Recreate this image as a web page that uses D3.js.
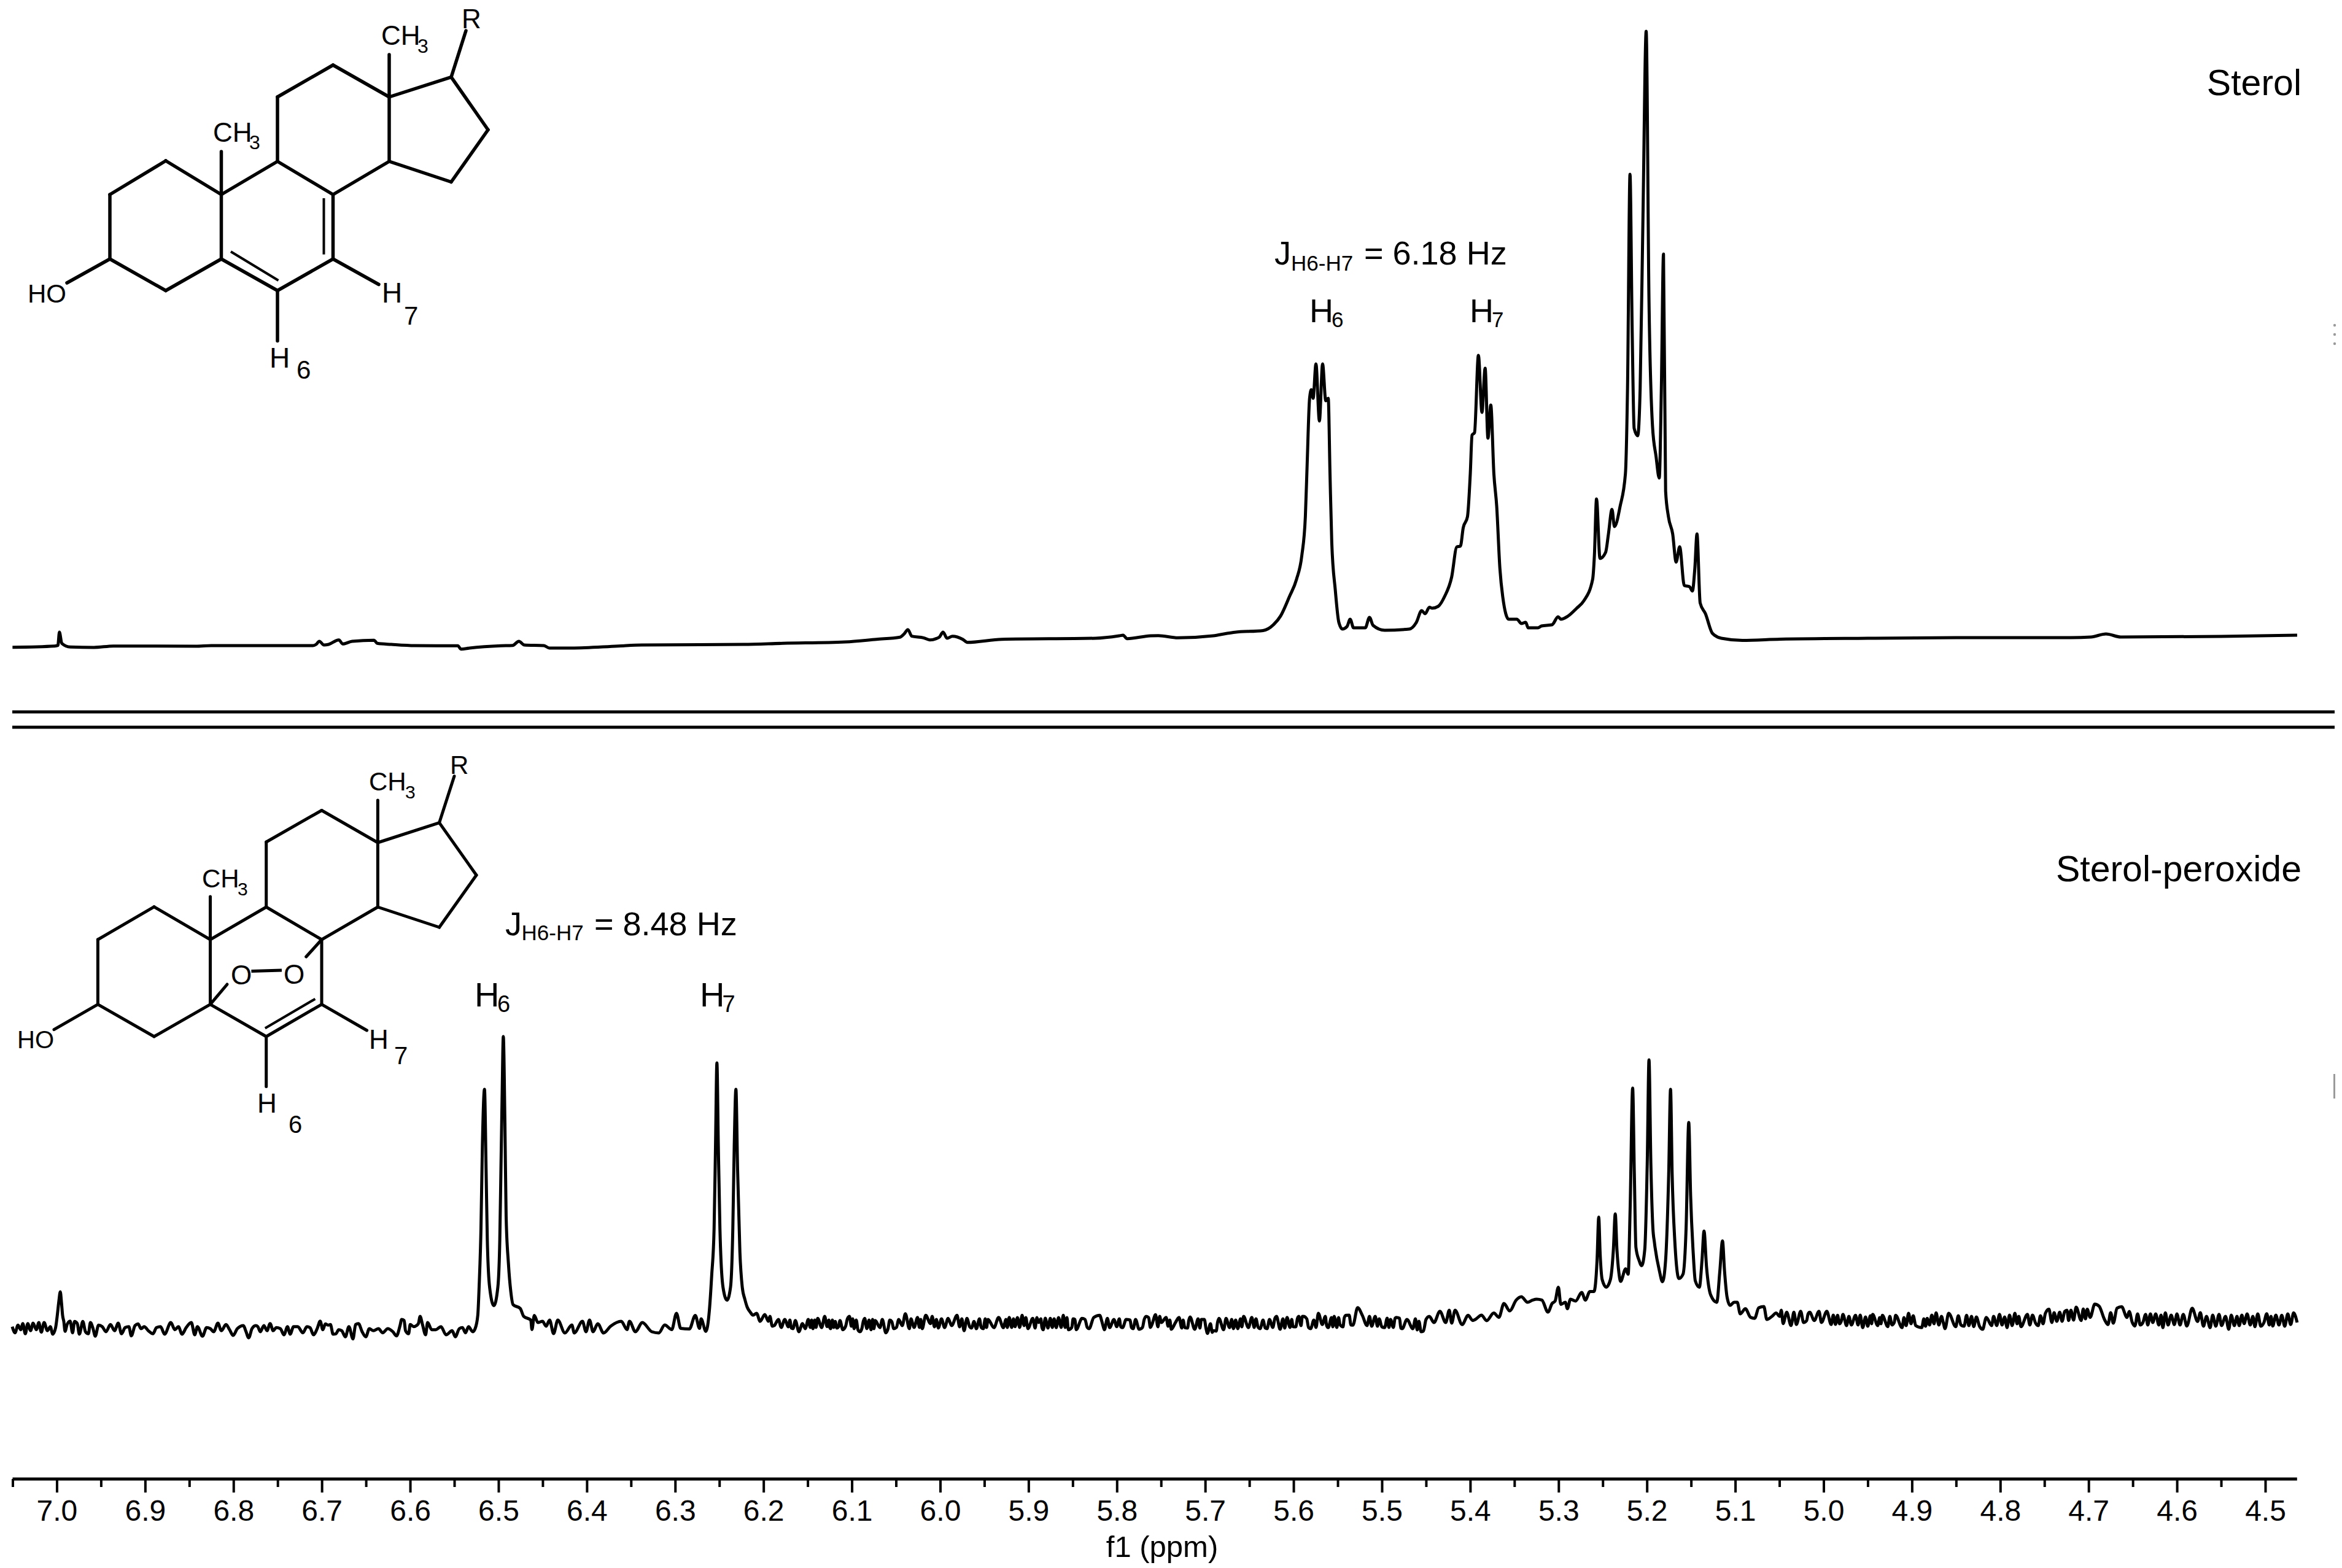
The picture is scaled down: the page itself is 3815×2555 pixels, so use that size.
<!DOCTYPE html>
<html>
<head>
<meta charset="utf-8">
<title>1H NMR of sterol and sterol-peroxide</title>
<script src="https://cdn.jsdelivr.net/npm/d3@7/dist/d3.min.js"></script>
<style>
html,body{margin:0;padding:0;background:#fff}
svg{display:block}
text{font-family:"Liberation Sans",Arial,sans-serif;fill:#000}
</style>
</head>
<body>
<svg id="chart" width="3815" height="2555" viewBox="0 0 3815 2555"></svg>
<script>
// ---------- data: chemical shift (ppm), intensity (a.u.) ----------
const majorTicks = [7.0,6.9,6.8,6.7,6.6,6.5,6.4,6.3,6.2,6.1,6.0,5.9,5.8,5.7,5.6,5.5,5.4,5.3,5.2,5.1,5.0,4.9,4.8,4.7,4.6,4.5];
const minorTicks = [7.05,6.95,6.85,6.75,6.65,6.55,6.45,6.35,6.25,6.15,6.05,5.95,5.85,5.75,5.65,5.55,5.45,5.35,5.25,5.15,5.05,4.95,4.85,4.75,4.65,4.55];
const xLabel = "f1 (ppm)";
const seriesNames = ["Sterol","Sterol-peroxide"];

const sterolBaselineLeft = [[7.0501,-2.7],[7.0023,-0.7],[6.9987,0.3],[6.997,22],[6.9943,3.7],[6.9846,-2.3],[6.958,-3],[6.9358,-0.7],[6.8428,-1],[6.8251,0],[6.7099,0],[6.7064,2],[6.7028,7],[6.6975,1],[6.6922,2],[6.6807,9.3],[6.6762,2.7],[6.6656,7],[6.6408,8.7],[6.6372,3.7],[6.6213,2],[6.5947,0],[6.546,-0.3],[6.5424,-5.7],[6.5327,-4],[6.4973,-0.3],[6.484,0.3],[6.4769,7],[6.4707,1],[6.4485,0],[6.4423,-4],[6.4175,-4],[6.3644,-0.7],[6.3378,1],[6.2226,2],[6.1783,3.7],[6.1074,6],[6.072,10.3],[6.0454,13.7],[6.041,18.7],[6.0365,26],[6.0321,15.3],[6.0188,12.7],[6.0117,9.3],[6.0011,13.7],[5.9967,22],[5.9922,12],[5.986,15.3],[5.9745,10.3],[5.9692,5.3],[5.9302,10.3],[5.8239,12],[5.7973,16],[5.7929,17],[5.7885,11.3],[5.7619,16],[5.753,16.3],[5.7309,12.7],[5.691,16],[5.6751,20]];
const sterolH6H7 = [[5.6664,21.8],[5.6345,24.6],[5.6225,34.4],[5.6146,48.4],[5.6046,80],[5.5966,108],[5.5906,146.7],[5.5866,210],[5.5846,294],[5.5818,403],[5.5798,417],[5.5778,403],[5.5746,459],[5.5707,366],[5.5671,459],[5.5635,399],[5.5607,403],[5.5587,280],[5.5567,168],[5.5527,90.5],[5.5487,38],[5.5447,27],[5.5395,31],[5.5359,43],[5.532,29],[5.5188,29],[5.514,46],[5.51,33],[5.4968,25],[5.4689,27],[5.4609,38],[5.455,57],[5.451,52],[5.4462,62.5],[5.443,61],[5.4362,64],[5.429,80],[5.421,111.6],[5.4151,161],[5.4111,162],[5.4079,192],[5.4031,210],[5.3999,280],[5.3979,343],[5.3951,347],[5.3907,473],[5.3867,380],[5.3831,452],[5.3799,338],[5.3767,392],[5.3732,280],[5.37,227],[5.3664,126],[5.3632,80],[5.3564,43],[5.3472,43],[5.342,36],[5.3372,38],[5.3344,29],[5.3233,29],[5.3193,32],[5.3073,34],[5.3005,47],[5.2973,43],[5.2894,48],[5.2794,61],[5.2714,73]];
const sterolMultiplet = [[5.2614,108],[5.2594,147],[5.257,239],[5.2531,142],[5.2467,152],[5.2435,182],[5.2395,222],[5.2367,194],[5.2303,227],[5.2243,280],[5.2219,420],[5.2191,768],[5.2167,519],[5.2144,354],[5.2104,342],[5.2076,420],[5.2044,701],[5.2008,1001],[5.1976,561],[5.1936,357],[5.1896,308],[5.186,273],[5.1836,420],[5.1812,638],[5.1788,252],[5.1756,210],[5.1708,182],[5.1669,136],[5.1629,161],[5.1577,98],[5.1517,96],[5.1485,89],[5.1457,126],[5.1433,182],[5.1397,69.5],[5.1337,52],[5.1258,20],[5.1158,12],[5.0919,8.5],[5.0488,10.5]];
const sterolBaselineRight = [[4.95,12],[4.85,13],[4.72,13],[4.6972,14],[4.6803,19],[4.6634,14],[4.55,15],[4.4639,17]];

const peroxideBaselineA = [[7.0504,3.3],[7.0472,-6.7],[7.0439,5.7],[7.0407,-1.7],[7.0384,8.3],[7.0356,-8.3],[7.0328,8.3],[7.0296,-3.3],[7.0268,9],[7.0231,-1.7],[7.0203,10],[7.0175,-5.7],[7.0143,10],[7.0106,-3.3],[7.0073,3.3],[7.0045,-9],[7.0013,1.7],[6.9994,21.7],[6.9976,45],[6.996,60],[6.9946,41.7],[6.9934,21.7],[6.992,11.7],[6.9906,-4.3],[6.9883,6.7],[6.9849,12.3],[6.9821,-6.7],[6.9798,11.7],[6.9768,8.3],[6.9744,-9],[6.9705,11.7],[6.9675,-5],[6.9642,-8.3],[6.9619,10],[6.9589,0],[6.9564,-12.3],[6.9527,5.7],[6.9485,3.3],[6.9443,-5],[6.9392,6.7],[6.9346,-3.3],[6.9304,9],[6.9267,-8.3],[6.9226,1.7],[6.9184,3.3],[6.9156,-11.7],[6.9114,5],[6.908,7.7],[6.9045,0],[6.901,3.3],[6.8964,-3.3],[6.8911,-8.3],[6.8871,1.7],[6.8825,3.3],[6.8779,-9],[6.8709,10],[6.8663,-1.7],[6.8623,3.3],[6.8582,-9],[6.8535,1.7],[6.8477,10],[6.8438,-10],[6.8408,3.3],[6.835,-12.3],[6.8304,1.7],[6.8262,0],[6.8223,-5],[6.8176,9],[6.8137,-3.3],[6.8084,6.7],[6.8044,-1.7],[6.8003,-11],[6.7956,0],[6.7887,5],[6.7859,-4.3],[6.7827,-15],[6.779,0],[6.7748,5]];
const peroxideBaselineB = [[6.7724,3.3],[6.7696,-5],[6.7655,5],[6.762,-3.3],[6.7585,8.3],[6.755,-3.3],[6.7516,1.7],[6.7469,0],[6.7428,-10],[6.7388,3.3],[6.7358,-9],[6.7319,3.3],[6.7272,3.3],[6.7214,-6.7],[6.7168,3.3],[6.7133,1.7],[6.7094,-10],[6.7052,0],[6.7018,12.3],[6.6988,-1.7],[6.696,7.7],[6.6925,5.7],[6.6902,6.7],[6.6872,-9],[6.6839,-8.3],[6.6809,-1.7],[6.6774,-3.3],[6.6733,-13.3],[6.6693,3.3],[6.6647,-16.7],[6.6617,6.7],[6.6585,8.3],[6.6543,-5],[6.6501,-13.3],[6.6462,0],[6.6415,-3.3],[6.6358,0],[6.6311,-6.7],[6.6253,0],[6.6195,-5],[6.6154,-11.7],[6.6114,5],[6.6096,15],[6.6068,13.3],[6.6052,-3.3],[6.6017,-8.3],[6.5999,6.7],[6.5959,3.3],[6.5929,5],[6.5906,8.3],[6.5887,20],[6.586,6.7],[6.5825,-10],[6.5802,10],[6.5755,-1.7],[6.5709,-1.7],[6.5651,3.3],[6.5593,-10],[6.5524,-3.3],[6.5489,-13.3],[6.5443,0],[6.5408,1.7],[6.5373,-6.7],[6.5339,3.3],[6.5292,-5],[6.5264,0],[6.5234,21.7]];
const peroxideDoublets = [[6.5219,67.5],[6.5198,163],[6.5182,297],[6.5158,390],[6.514,259],[6.5126,144],[6.51,67.5],[6.5052,37.6],[6.5007,67.5],[6.4985,144],[6.4972,259],[6.4959,374],[6.4945,476],[6.4927,335],[6.4913,182],[6.4887,106],[6.486,60],[6.4834,39],[6.4754,33],[6.4714,20],[6.4634,14],[6.4621,-1.4],[6.4594,21.6],[6.4554,10],[6.4501,12],[6.4461,4],[6.4421,14],[6.4376,-8],[6.4328,14],[6.4248,-7],[6.4169,6],[6.4142,-7],[6.4049,12],[6.4009,-5],[6.3969,14],[6.3929,-5],[6.3876,8],[6.381,-7],[6.373,4],[6.361,12],[6.3544,-1.4],[6.3517,12],[6.345,-5],[6.3371,10],[6.3264,-5],[6.3185,-7],[6.3118,6],[6.3038,-1.4],[6.2985,25],[6.2937,0.5],[6.2839,-0.6],[6.2772,21.6],[6.2724,0.5],[6.2706,16],[6.2652,-4.5],[6.2613,29],[6.2586,87],[6.2559,163],[6.2543,297],[6.2527,433],[6.2511,297],[6.2493,163],[6.2458,67.5],[6.2413,46.4],[6.2373,67.5],[6.2347,163],[6.2331,297],[6.2312,390],[6.2293,259],[6.2267,125],[6.224,67.5]];
const peroxideBaselineC = [[6.2211,48],[6.2184,35],[6.215,27],[6.2118,22],[6.2078,25],[6.2038,12],[6.1985,23],[6.1945,12],[6.1878,5],[6.1831,15],[6.1799,2],[6.1759,15],[6.1719,3],[6.1666,0],[6.1639,13.3],[6.1599,-5],[6.1559,8.3],[6.1527,0],[6.1493,15],[6.144,0],[6.1386,16.7],[6.1341,1.7],[6.1307,20],[6.128,3.3],[6.124,0],[6.1187,11.7],[6.1134,13.3],[6.1102,-1.7],[6.1027,20],[6.0974,0],[6.0907,-5],[6.0854,16.7],[6.0782,-1.7],[6.0735,13.3],[6.0681,1.7],[6.0655,15],[6.0615,-6.7],[6.0548,11.7],[6.0469,15],[6.0429,5],[6.0394,24.3],[6.0349,0],[6.0256,18.3],[6.0203,0],[6.0163,21.7],[6.011,8.3],[6.0043,15],[5.995,1.7],[5.991,16.7],[5.987,5],[5.9809,21.7],[5.9729,-3.3],[5.9697,16.7],[5.9617,11.7],[5.9511,0],[5.9458,15],[5.9391,1.7],[5.9338,18.3],[5.9285,1.7],[5.9218,18.3],[5.9152,3.3],[5.9072,21.7],[5.9006,0],[5.8952,16.7],[5.8886,10],[5.8833,-1.7],[5.8753,16.7],[5.8686,1.7],[5.8606,21.7],[5.8548,-1.7],[5.8474,15],[5.846,-1.7],[5.8394,16.7],[5.8314,0],[5.8261,18.3],[5.8194,21.7],[5.8141,-1.7]];
const peroxideFineC = [[6.1927,20],[6.19,4],[6.1701,14],[6.1685,1],[6.147,2],[6.1455,14],[6.142,14],[6.1405,2],[6.126,14],[6.125,2],[6.122,14],[6.1205,2],[6.117,1],[6.115,3],[6.107,4],[6.105,16],[6.1005,4],[6.099,16],[6.095,14],[6.093,-2],[6.0885,1],[6.087,12],[6.083,0],[6.0805,14],[6.0765,15],[6.075,0],[6.059,0],[6.057,14],[6.0525,0],[6.0495,2],[6.033,16],[6.0295,2],[6.0235,2],[6.022,15],[6.009,20],[6.0065,3],[6.002,1],[5.9985,16],[5.978,3],[5.9755,16],[5.9665,3],[5.9645,1],[5.959,0],[5.9555,16],[5.9535,2],[5.949,16],[5.9475,2],[5.9255,15],[5.924,2],[5.919,2],[5.917,16],[5.9125,18],[5.91,2],[5.905,5],[5.903,18],[5.8925,1],[5.8905,18],[5.886,16],[5.8848,2],[5.881,17],[5.878,1],[5.873,2],[5.871,16],[5.866,18],[5.863,2],[5.8585,2],[5.8565,18],[5.851,2],[5.8495,16],[5.836,15],[5.8335,2],[5.817,12],[5.8155,4]];
const peroxideBaselineD = [[5.8107,16.7],[5.8081,1.7],[5.8033,15],[5.8001,3.3],[5.7934,1.7],[5.7895,15],[5.7815,0],[5.7788,15],[5.7748,-1],[5.7668,20],[5.7602,6.7],[5.7562,22.7],[5.7496,10],[5.7442,18.3],[5.7384,-1],[5.7336,10],[5.7296,18.3],[5.723,1.7],[5.7171,19],[5.7118,-1],[5.7043,15],[5.6974,-7.7],[5.6905,-3.3],[5.6844,16.7],[5.6791,-1.7],[5.6764,16.7],[5.6724,1.7],[5.6631,0],[5.6565,20],[5.6511,1.7],[5.6472,18.3],[5.6378,0],[5.6299,0],[5.6272,15],[5.6192,20],[5.6152,-1],[5.6073,18.3],[5.6006,3.3],[5.594,20],[5.5886,20],[5.5806,0],[5.5719,25],[5.5674,6.7],[5.5607,1.7],[5.554,20],[5.5474,6.7],[5.5407,21.7],[5.5328,5.7],[5.5274,34.3],[5.5221,21.7],[5.5168,5],[5.5075,20],[5.4969,1.7],[5.4902,15],[5.4836,18.3],[5.4769,0],[5.4716,15],[5.4649,0],[5.4556,-5],[5.4463,20],[5.441,10],[5.4343,28.3],[5.4277,10],[5.4237,30],[5.421,9],[5.4171,30],[5.4091,6.7],[5.4024,21.7],[5.3971,13.3]];
const peroxideFineD = [[5.7972,16],[5.7955,3],[5.785,14],[5.7835,2],[5.771,2],[5.769,15],[5.764,18],[5.762,2],[5.7535,3],[5.7515,20],[5.742,4],[5.74,14],[5.7265,1],[5.725,14],[5.72,1],[5.7185,14],[5.708,16],[5.706,1],[5.701,15],[5.699,0],[5.694,8],[5.692,-6],[5.6875,-4],[5.686,10],[5.67,15],[5.668,0],[5.6655,14],[5.66,16],[5.6585,3],[5.6445,2],[5.6425,16],[5.64,2],[5.6345,14],[5.632,1],[5.6235,2],[5.621,17],[5.612,16],[5.61,1],[5.604,2],[5.602,15],[5.5975,3],[5.5955,17],[5.5915,5],[5.59,20],[5.585,16],[5.583,2],[5.577,14],[5.5745,2],[5.564,20],[5.5625,5],[5.557,18],[5.5555,3],[5.551,2],[5.549,18],[5.544,3],[5.5425,18],[5.537,22],[5.535,6],[5.514,20],[5.5115,4],[5.505,4],[5.503,16],[5.5,3],[5.494,17],[5.492,2],[5.487,2],[5.485,17],[5.48,17],[5.4785,1],[5.462,16],[5.46,-2],[5.458,12],[5.453,-4],[5.45,15]];
const peroxideMultiplet = [[5.3942,15],[5.3872,22],[5.3814,13],[5.3733,25.5],[5.3675,18.5],[5.3618,41],[5.3553,29],[5.3479,46.6],[5.3421,52],[5.3351,43],[5.3293,46.6],[5.3247,48],[5.3189,46.6],[5.312,27],[5.3073,41],[5.3039,45],[5.3002,67.6],[5.2974,39.6],[5.2923,43],[5.29,32.5],[5.2865,48],[5.2807,45],[5.2738,59],[5.2696,46.6],[5.2645,60.6],[5.2599,60.6],[5.2564,111.5],[5.2545,181.7],[5.2529,122],[5.2506,80],[5.246,67.6],[5.2413,80],[5.2379,129],[5.2358,187],[5.2339,129],[5.2316,90.4],[5.2298,77],[5.224,97.5],[5.2212,88.7],[5.2189,199],[5.2161,392],[5.2142,252],[5.2124,132.5],[5.2089,111.5],[5.2059,102.7],[5.2024,129],[5.1996,269],[5.1976,438],[5.1955,269],[5.1932,164],[5.1915,141],[5.1858,94],[5.1823,76.4],[5.1788,111.5],[5.1753,252],[5.1732,390],[5.1714,252],[5.1684,143],[5.1637,81.7],[5.1591,88.7],[5.1556,164],[5.1526,336],[5.1505,217],[5.1475,122],[5.1452,78],[5.1406,67.6],[5.1376,111.5],[5.1353,159],[5.1325,101],[5.1278,55],[5.1209,43],[5.1174,94],[5.1144,143],[5.1121,94],[5.1093,52],[5.1058,38],[5.1012,43],[5.0977,43],[5.0943,24],[5.0885,32.5],[5.0827,18.5],[5.078,16.8],[5.0734,34],[5.0676,36],[5.0642,15],[5.0584,20],[5.0537,25.5],[5.0496,20]];
const peroxideBaselineE = [[5.0478,30],[5.0458,8.3],[5.0417,26.7],[5.0368,5],[5.0336,26.7],[5.0308,6.7],[5.0259,28.3],[5.0226,10],[5.0157,26.7],[5.0105,13.3],[5.0052,28.3],[5.0024,10],[4.9963,28.3],[4.9914,6.7],[4.9841,21.7],[4.978,23.3],[4.974,5],[4.9638,21.7],[4.9557,1.7],[4.9444,23.3],[4.9387,5],[4.9334,21.7],[4.9273,3.3],[4.9184,21.7],[4.9111,1.7],[4.9038,25],[4.8957,5],[4.8888,1.7],[4.8827,16.7],[4.8726,25.7],[4.8625,0],[4.8584,25],[4.8503,3.3],[4.8381,21.7],[4.83,3.3],[4.8199,-1],[4.8158,18.3],[4.8098,5],[4.8008,23.3],[4.7923,1.7],[4.7834,25],[4.7765,3.3],[4.7692,23.3],[4.757,5],[4.7489,25],[4.7449,31.7],[4.7416,10],[4.7327,26.7],[4.7226,13.3],[4.7141,35],[4.7084,13.3],[4.7015,31.7],[4.6982,18.3],[4.693,40],[4.6881,36.7],[4.682,15],[4.678,6.7],[4.6678,33.3],[4.6626,35.7],[4.6565,18.3],[4.6476,4.3],[4.6354,23.3],[4.6273,10],[4.6159,1.7],[4.6131,25.7],[4.6029,6.7],[4.5928,23.3],[4.5888,4.3],[4.5827,33.3],[4.5766,11.7],[4.5624,1.7],[4.5523,23.3],[4.5413,-1],[4.532,20],[4.5239,8.3],[4.5117,3.3],[4.4983,24.3],[4.4915,4.3],[4.4813,21.7],[4.4712,6.7],[4.4679,25.7],[4.4639,10]];
const peroxideFineE = [[5.0192,13],[5.0175,24],[4.989,22],[4.9865,7],[4.982,8],[4.98,12],[4.9713,20],[4.9685,6],[4.961,6],[4.9585,22],[4.9525,19],[4.95,4],[4.947,21],[4.9455,8],[4.9365,18],[4.935,8],[4.925,20],[4.9225,6],[4.92,10],[4.909,18],[4.9065,5],[4.901,8],[4.8985,21],[4.8865,16],[4.8845,4],[4.88,6],[4.8775,22],[4.875,8],[4.8695,6],[4.8665,20],[4.8645,10],[4.8475,21],[4.8445,6],[4.841,4],[4.8355,5],[4.8325,20],[4.827,19],[4.8235,4],[4.8075,20],[4.804,5],[4.798,6],[4.795,19],[4.7895,22],[4.7865,5],[4.781,8],[4.779,20],[4.7665,6],[4.7635,22],[4.76,9],[4.7545,21],[4.7515,8],[4.739,26],[4.736,12],[4.73,12],[4.727,28],[4.7245,30],[4.72,30],[4.717,14],[4.706,32],[4.7035,16],[4.675,26],[4.672,9],[4.654,28],[4.6505,10],[4.6445,24],[4.6415,6],[4.6385,10],[4.633,6],[4.63,24],[4.624,24],[4.6205,6],[4.618,22],[4.61,6],[4.6065,22],[4.6,24],[4.5965,6],[4.5735,26],[4.57,4],[4.5665,20],[4.5595,22],[4.556,4],[4.5495,5],[4.545,20],[4.5385,22],[4.535,5],[4.5295,5],[4.5265,22],[4.5205,24],[4.517,6],[4.514,20],[4.5085,24],[4.505,4],[4.5015,10],[4.4955,6],[4.4935,20],[4.488,22],[4.4845,6],[4.478,4],[4.4745,24]];

// ---------- chart ----------
const svg = d3.select("#chart");
svg.append("rect").attr("width",3815).attr("height",2555).attr("fill","#fff");

const x = d3.scaleLinear().domain([7.05,4.464]).range([20.5,3741.8]);
const yTop = d3.scaleLinear().domain([0,1000]).range([1052,52]);
const yBottom = d3.scaleLinear().domain([0,500]).range([2165,1665]);

const sterol = [...sterolBaselineLeft,...sterolH6H7,...sterolMultiplet,...sterolBaselineRight];
const peroxide = [...peroxideBaselineA,...peroxideBaselineB,...peroxideDoublets,...peroxideBaselineC,...peroxideFineC,...peroxideBaselineD,...peroxideFineD,...peroxideMultiplet,...peroxideBaselineE,...peroxideFineE]
  .sort((a,b)=>d3.descending(a[0],b[0]));

const lineOf = y => d3.line().curve(d3.curveMonotoneX).x(d=>x(d[0])).y(d=>y(d[1]));
[[sterol,yTop,5],[peroxide,yBottom,5]].forEach(([data,y,w])=>{
  svg.append("path").datum(data).attr("d",lineOf(y))
    .attr("fill","none").attr("stroke","#000").attr("stroke-width",w).attr("stroke-linejoin","round");
});

// separators between the panels
[1160,1185].forEach(yy=>{
  svg.append("line").attr("x1",20).attr("x2",3803).attr("y1",yy).attr("y2",yy)
    .attr("stroke","#000").attr("stroke-width",5);
});

// axis
const axisY = 2410;
const minorAxis = svg.append("g").attr("transform",`translate(0,${axisY})`)
  .call(d3.axisBottom(x).tickValues(minorTicks).tickSize(13).tickFormat(""));
minorAxis.select(".domain").remove();
minorAxis.selectAll("line").attr("stroke","#000").attr("stroke-width",4);
const majorAxis = svg.append("g").attr("transform",`translate(0,${axisY})`)
  .call(d3.axisBottom(x).tickValues(majorTicks).tickSize(22).tickPadding(0).tickFormat(d3.format(".1f")));
majorAxis.select(".domain").attr("stroke","#000").attr("stroke-width",5).attr("d",`M${x.range()[0]},0H${x.range()[1]}`);
majorAxis.selectAll("line").attr("stroke","#000").attr("stroke-width",4);
majorAxis.selectAll("text").attr("y",68).attr("dy",0)
  .style("font-family",'"Liberation Sans",Arial,sans-serif').style("font-size","48px").attr("fill","#000");
svg.append("text").attr("x",1893).attr("y",2537).attr("text-anchor","middle").style("font-size","49px").text(xLabel);

// series names
svg.append("text").attr("x",3749).attr("y",155).attr("text-anchor","end").style("font-size","59px").text(seriesNames[0]);
svg.append("text").attr("x",3749).attr("y",1436).attr("text-anchor","end").style("font-size","59px").text(seriesNames[1]);

// annotation helper: main text followed by a subscript, optional tail
function labelled(xp,yp,main,sub,subX,subDy,size,subSize,tail,tailX){
  const t = svg.append("text").attr("x",xp).attr("y",yp).style("font-size",size+"px");
  t.append("tspan").text(main);
  t.append("tspan").attr("x",subX).attr("dy",subDy).style("font-size",subSize+"px").text(sub);
  if(tail) t.append("tspan").attr("x",tailX).attr("dy",-subDy).text(tail);
}
labelled(2076,431,"J","H6-H7",2103,10,54,35," = 6.18 Hz",2207);
labelled(2133,525,"H","6",2169,8,54,35);
labelled(2394,525,"H","7",2430,8,54,35);
labelled(823,1524,"J","H6-H7",849.5,8,54,35," = 8.48 Hz",953);
labelled(773,1640,"H","6",810,9,56,38);
labelled(1140,1640,"H","7",1176.5,9,56,38);

// ---------- structural formulae (decoration, pixel coordinates) ----------
const sterolAtoms = {C1:[270,262],C2:[179,317],C3:[179,422],C4:[270,473.5],C5:[360.5,422],C6:[452,473.5],C7:[542.5,422],C8:[542.5,317],C9:[452,263],C10:[360.5,317],C11:[452,158],C12:[542.5,106],C13:[634,158],C14:[634,263],C15:[735,296.5],C16:[795,211.5],C17:[735,125.6],Me10:[360.5,247],Me13:[634,89],Rr:[759,50],OH:[109,461],H7:[617,463.5],H6:[452,555.5]};
const peroxideAtoms = {C1:[251,1477.7],C2:[159.4,1531],C3:[159.4,1636.6],C4:[251,1689],C5:[342.5,1636.6],C6:[433.7,1689],C7:[524,1636.6],C8:[524,1531],C9:[433.7,1478],C10:[342.5,1531],C11:[433.7,1372],C12:[524,1320.5],C13:[615.4,1373],C14:[615.4,1478],C15:[715.6,1511],C16:[776,1426],C17:[715.6,1340.6],Me10:[342.5,1461],Me13:[615.4,1304],Rr:[740,1264.7],OH:[88,1677.7],H7:[597.6,1679],H6:[433.7,1770.5],Oa:[370,1604],Ob:[498.7,1559]};
const commonBonds = [["C1","C2"],["C2","C3"],["C3","C4"],["C4","C5"],["C5","C6"],["C6","C7"],["C7","C8"],["C8","C9"],["C9","C10"],["C10","C1"],["C5","C10"],["C9","C11"],["C11","C12"],["C12","C13"],["C13","C14"],["C14","C8"],["C14","C15"],["C15","C16"],["C16","C17"],["C17","C13"],["C10","Me10"],["C13","Me13"],["C17","Rr"],["C3","OH"],["C7","H7"],["C6","H6"]];
const peroxideExtraBonds = [["C5","Oa"],["C8","Ob"]];
function drawBonds(atoms,bonds,w){
  svg.append("g").attr("stroke","#000").attr("stroke-width",w).attr("stroke-linecap","round")
    .selectAll("line").data(bonds).join("line")
    .attr("x1",d=>atoms[d[0]][0]).attr("y1",d=>atoms[d[0]][1])
    .attr("x2",d=>atoms[d[1]][0]).attr("y2",d=>atoms[d[1]][1]);
}
function seg(a,b,c,d,w){svg.append("line").attr("x1",a).attr("y1",b).attr("x2",c).attr("y2",d).attr("stroke","#000").attr("stroke-width",w);}
function atomText(xp,yp,s,size){svg.append("text").attr("x",xp).attr("y",yp).style("font-size",size+"px").text(s);}
function ch3(xp,yp,subX,subY,size){
  const t = svg.append("text").attr("x",xp).attr("y",yp).style("font-size",size+"px");
  t.append("tspan").text("CH");
  t.append("tspan").attr("x",subX).attr("y",subY).style("font-size",Math.round(size*0.72)+"px").text("3");
}

drawBonds(sterolAtoms,commonBonds,5.5);
seg(527.5,323,527.5,414.6,4);
seg(376,410,453.5,457,4);
atomText(45,493,"HO",42);
ch3(621,72.6,680,86,44);
ch3(347,231,406,243,44);
atomText(752,45.6,"R",44);
atomText(622,493,"H",46);
atomText(658,528.6,"7",42);
atomText(439,599,"H",46);
atomText(483,617,"6",42);

drawBonds(peroxideAtoms,commonBonds.concat(peroxideExtraBonds),5);
seg(431.8,1675.4,513.4,1627.7,4);
seg(409.4,1582.6,459,1581,5);
atomText(376,1603.5,"O",44);
atomText(462,1603,"O",44);
atomText(28,1708,"HO",40);
ch3(601,1288,660,1301,42);
ch3(329,1445.5,387,1459,42);
atomText(733,1261,"R",42);
atomText(601,1709,"H",44);
atomText(642,1734,"7",40);
atomText(419,1813,"H",44);
atomText(470,1846,"6",40);

// small grey crop marks on the right edge
[530,545,560].forEach(yy=>svg.append("circle").attr("cx",3803).attr("cy",yy).attr("r",2.2).attr("fill","#9a9a9a"));
svg.append("rect").attr("x",3801).attr("y",1750).attr("width",3).attr("height",40).attr("fill","#9a9a9a");
</script>
</body>
</html>
